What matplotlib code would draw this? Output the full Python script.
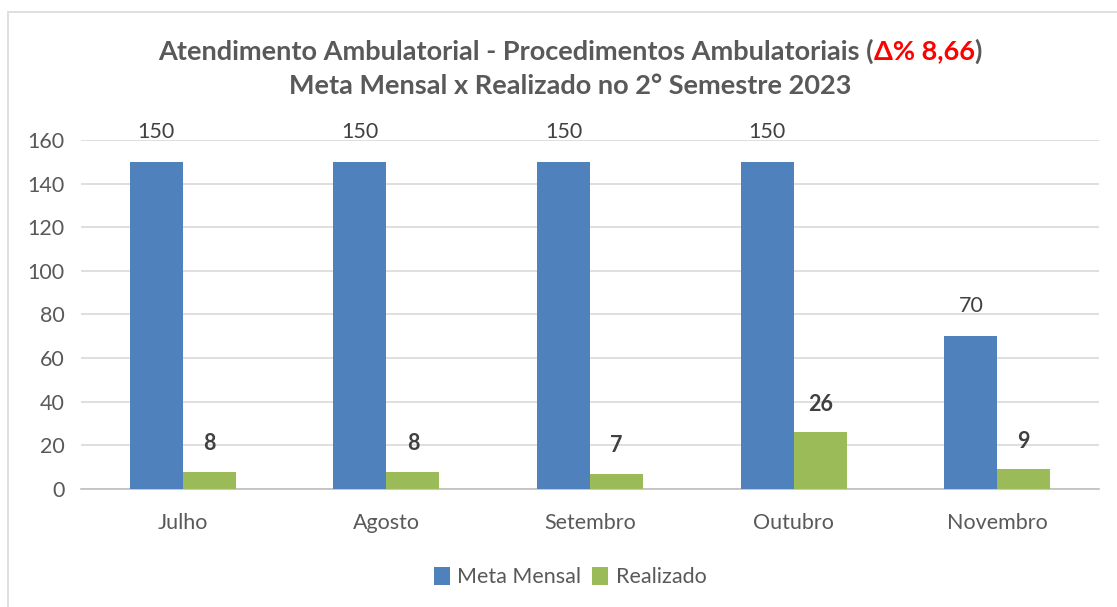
import numpy as np
import matplotlib
matplotlib.use('Agg')
import matplotlib.pyplot as plt
from matplotlib.patches import Rectangle

plt.rcParams['font.family'] = ['Lato', 'DejaVu Sans']

# ============================================================
# 数据
# ============================================================
MESES = ['Julho', 'Agosto', 'Setembro', 'Outubro', 'Novembro']
META = [150, 150, 150, 150, 70]
REALIZADO = [8, 8, 7, 26, 9]
Y_TICKS = [0, 20, 40, 60, 80, 100, 120, 140, 160]

TITULO_1A = 'Atendimento Ambulatorial - Procedimentos Ambulatoriais ('
TITULO_1B = 'Δ% 8,66'
TITULO_1C = ')'
TITULO_2 = 'Meta Mensal x Realizado no 2° Semestre 2023'

AZUL = '#4F81BD'
VERDE = '#9BBB59'
CINZA = '#595959'

fig = plt.figure(figsize=(11.17, 6.07), dpi=100)
ax = fig.add_axes([0.0725, 0.1944, 0.9115, 0.575])

# moldura do gráfico
fig.patches.append(Rectangle((8 / 1117, -0.05), 1.2, 1 - 12 / 607 + 0.05,
                             transform=fig.transFigure, fill=False,
                             edgecolor='#D9D9D9', linewidth=1.2))

x = np.arange(len(MESES))
w = 0.26
b1 = ax.bar(x - w / 2, META, w, color=AZUL, label='Meta Mensal', zorder=3)
b2 = ax.bar(x + w / 2, REALIZADO, w, color=VERDE, label='Realizado', zorder=3)

for rect, v in zip(b1, META):
    ax.annotate(str(v), (rect.get_x() + rect.get_width() / 2, v),
                xytext=(0, 21.5), textcoords='offset points', ha='center',
                va='center', fontsize=15.5, color='#404040')
for rect, v in zip(b2, REALIZADO):
    ax.annotate(str(v), (rect.get_x() + rect.get_width() / 2, v),
                xytext=(0, 20), textcoords='offset points', ha='center',
                va='center', fontsize=15.5, color='#404040', fontweight='bold')

ax.set_xlim(-0.5, len(MESES) - 0.5)
ax.set_ylim(0, 160)
ax.set_yticks(Y_TICKS)
ax.set_xticks(x)
ax.set_xticklabels(MESES)
ax.tick_params(axis='both', length=0, labelsize=15.5, labelcolor=CINZA)
ax.tick_params(axis='x', pad=17)
ax.tick_params(axis='y', pad=12)
ax.grid(axis='y', color='#D9D9D9', linewidth=1.2, zorder=0)
for s in ['top', 'right', 'left']:
    ax.spines[s].set_visible(False)
ax.spines['bottom'].set_color('#BFBFBF')
ax.spines['bottom'].set_linewidth(1.2)

# título em partes (parte vermelha)
fig.canvas.draw()
r = fig.canvas.get_renderer()
kw = dict(fontsize=19.5, fontweight='bold', va='center')
ta = fig.text(0, 0, TITULO_1A, color=CINZA, **kw)
tb = fig.text(0, 0, TITULO_1B, color='#FF0000', **kw)
tc = fig.text(0, 0, TITULO_1C, color=CINZA, **kw)
wa = ta.get_window_extent(r).width
wb = tb.get_window_extent(r).width
wc = tc.get_window_extent(r).width
total = wa + wb + wc
x0 = 570 - total / 2
y1 = 607 - 51
ta.set_position((x0 / 1117, y1 / 607))
tb.set_position(((x0 + wa) / 1117, y1 / 607))
tc.set_position(((x0 + wa + wb) / 1117, y1 / 607))
fig.text(570 / 1117, (607 - 86) / 607, TITULO_2, color=CINZA, ha='center', **kw)

fig.legend(loc='center', bbox_to_anchor=(570 / 1117, (607 - 577) / 607), ncol=2,
           frameon=False, fontsize=15.5, labelcolor=CINZA, handlelength=0.75,
           handleheight=0.9, handletextpad=0.35, columnspacing=0.5)

fig.savefig('out.png', dpi=100)
